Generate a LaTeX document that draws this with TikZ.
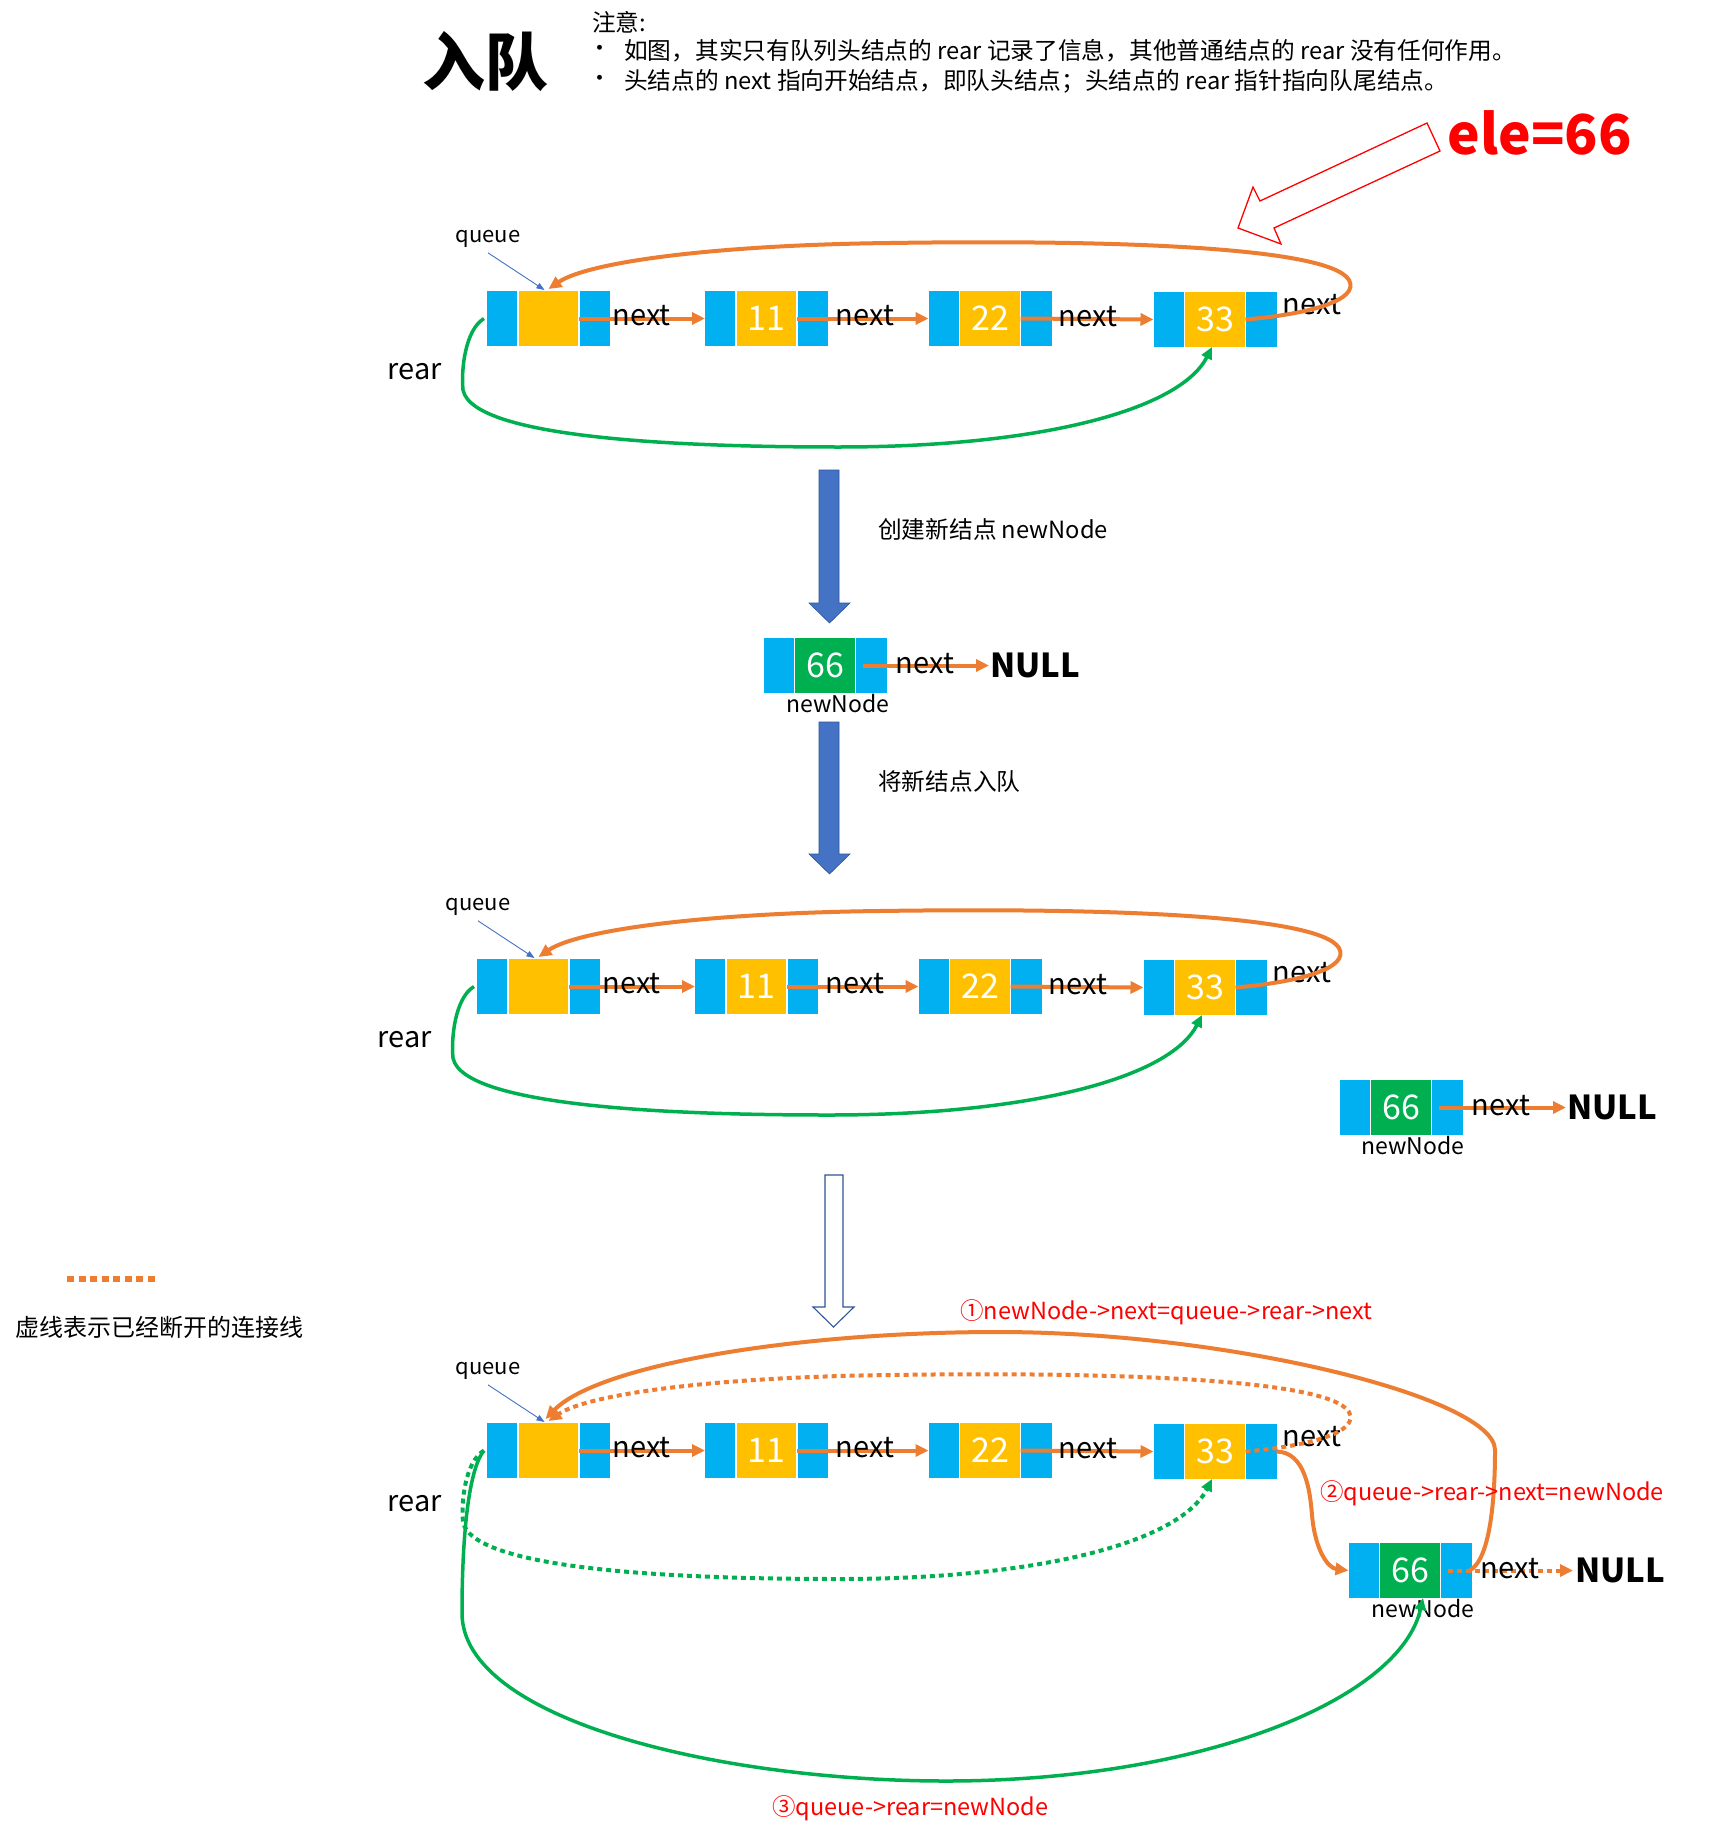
\documentclass[tikz,border=0pt]{standalone}
\usepackage{fontspec}
\setmainfont{Noto Sans CJK SC}
\usetikzlibrary{arrows.meta}
\definecolor{qblue}{HTML}{00B0F0}
\definecolor{qyellow}{HTML}{FFC000}
\definecolor{qgreen}{HTML}{00B050}
\definecolor{qorange}{HTML}{ED7D31}
\definecolor{qarrow}{HTML}{4472C4}
\definecolor{qdark}{HTML}{2F5597}
\definecolor{qred}{HTML}{FF0000}
\newcommand\fsz[1]{\fontsize{#1pt}{#1pt}\selectfont}
\tikzset{
  lnode/.style={rectangle, minimum width=123pt, minimum height=55pt, inner sep=0pt, outer sep=0pt,
    fill=qblue, text=white, font=\fsz{34},
    path picture={
      \fill[#1] ([xshift=31pt]path picture bounding box.south west) rectangle ([xshift=-31pt]path picture bounding box.north east);
      \draw[white, line width=1.3pt]
        ([xshift=31pt]path picture bounding box.south west) -- ([xshift=31pt]path picture bounding box.north west)
        ([xshift=-31pt]path picture bounding box.south east) -- ([xshift=-31pt]path picture bounding box.north east);}},
  nextarr/.style={qorange, line width=4pt, -{Triangle[length=13pt,width=12pt]}},
  nextcurve/.style={qorange, line width=4pt, -{Triangle[length=13pt,width=12pt]}},
  nextdot/.style={qorange, line width=4pt, dash pattern=on 5pt off 4pt, -{Triangle[length=13pt,width=12pt]}},
  rearline/.style={qgreen, line width=3.5pt, -{Triangle[length=12pt,width=11pt]}},
  reardot/.style={qgreen, line width=4pt, dash pattern=on 5pt off 4pt, -{Triangle[length=12pt,width=11pt]}},
  qptr/.style={qarrow, line width=0.9pt, -{Triangle[length=8pt,width=6pt]}},
  nexttxt/.style={font=\fsz{29}, text=black, inner sep=0pt},
  nulltxt/.style={font=\bfseries\fsz{33}, text=black, inner sep=0pt, anchor=west},
  nnlbl/.style={font=\fsz{23}, text=black, inner sep=0pt},
  redlbl/.style={font=\fsz{23.5}, text=qred, inner sep=0pt, anchor=west},
  lbltxt/.style={font=\fsz{23.7}, text=black, inner sep=0pt, anchor=west},
}
% basic queue row: nodes, next arrows, labels
\newcommand\qbase[1]{%
  \node[lnode=qyellow] (h#1) at (548.5,318.5) {};
  \node[lnode=qyellow] (a#1) at (766.5,318.5) {11};
  \node[lnode=qyellow] (b#1) at (990,318.5) {22};
  \node[lnode=qyellow] (c#1) at (1215,319.5) {33};
  \draw[nextarr] ([xshift=-31pt]h#1.east) -- (a#1.west);
  \draw[nextarr] ([xshift=-31pt]a#1.east) -- (b#1.west);
  \draw[nextarr] ([xshift=-31pt]b#1.east) -- (c#1.west);
  \node[nexttxt] (ta#1) at (641.5,316) {next};
  \node[nexttxt] (tb#1) at (865,316) {next};
  \node[nexttxt] (tc#1) at (1088,317) {next};
  \node[nexttxt] (td#1) at (1312,305) {next};
  \node[font=\fsz{22}, inner sep=0pt] (q#1) at (488,239) {queue};
  \draw[qptr] ([yshift=-5pt]q#1.south) -- ([xshift=-4pt,yshift=1pt]h#1.north);
  \node[font=\fsz{29}, inner sep=0pt] (r#1) at (415,372) {rear};
}
\newcommand\qcurves[3]{%
  \draw[#2] ([xshift=-31pt]c#1.east) .. controls (1310,314) and (1360,300) .. (1349,280)
     .. controls (1328,245) and (1090,240) .. (890,243)
     .. controls (715,245) and (588,262) .. ([yshift=2pt]h#1.north);
  \draw[#3] ([xshift=-3pt]h#1.west) .. controls (465,330) and (461,370) .. (463,390)
     .. controls (473,440) and (695,447) .. (839,447)
     .. controls (1040,447) and (1180,410) .. ([xshift=-3pt]c#1.south);
}
\begin{document}
\begin{tikzpicture}[x=1pt,y=-1pt]
\fill[white] (0,0) rectangle (1732,1835);
\useasboundingbox (0,0) rectangle (1732,1835);

% ---------- header ----------
\node[font=\bfseries\fsz{63}, inner sep=0pt] (title) at (485,62) {入队};
\node[lbltxt] (note) at (592,22) {注意:};
\node[font=\fsz{23}, inner sep=0pt] (bul1) at (600,51) {•};
\node[lbltxt] (txt1) at (624,51) {如图，其实只有队列头结点的 rear 记录了信息，其他普通结点的 rear 没有任何作用。};
\node[font=\fsz{23}, inner sep=0pt] (bul2) at (600,81) {•};
\node[lbltxt] (txt2) at (624,81) {头结点的 next 指向开始结点，即队头结点；头结点的 rear 指针指向队尾结点。};

% ele=66 and hollow red arrow
\node[font=\bfseries\fsz{55}, text=qred, inner sep=0pt, anchor=base west] (ele) at (1447,155) {ele=66};
\draw[qred, line width=1.3pt, fill=white, line join=miter]
  (1427,123) -- (1260,201) -- (1253,187) -- (1238,228) -- (1281,244) -- (1274,228) -- (1440,151) -- cycle;

% ---------- row 1 ----------
\qbase{1}
\qcurves{1}{nextcurve}{rearline}

% blue arrow 1
\fill[qarrow, draw=qdark, line width=0.6pt]
  (819,470) -- (839,470) -- (839,603) -- (850,603) -- (829.5,623) -- (809,603) -- (819,603) -- cycle;
\node[lbltxt] (cap1) at (878,529) {创建新结点 newNode};

% new node 1
\node[lnode=qgreen] (m1) at (825,665.5) {66};
\node[nulltxt] (nl1) at (990,665.5) {NULL};
\draw[nextarr] ([xshift=-24pt]m1.east) -- ([xshift=-1pt]nl1.west);
\node[nexttxt] (tm1) at (925,664) {next};
\node[nnlbl] (nn1) at ([xshift=13pt,yshift=-38pt]m1.center) {newNode};

% blue arrow 2
\fill[qarrow, draw=qdark, line width=0.6pt]
  (819,722) -- (839,722) -- (839,854) -- (850,854) -- (829.5,874) -- (809,854) -- (819,854) -- cycle;
\node[lbltxt] (cap2) at (878,781) {将新结点入队};

% ---------- row 2 ----------
\begin{scope}[shift={(-10,668)}]
\qbase{2}
\qcurves{2}{nextcurve}{rearline}
\end{scope}
\node[lnode=qgreen] (m2) at (1401,1107.5) {66};
\node[nulltxt] (nl2) at (1567,1107.5) {NULL};
\draw[nextarr] ([xshift=-24pt]m2.east) -- ([xshift=-1pt]nl2.west);
\node[nexttxt] (tm2) at (1501,1106) {next};
\node[nnlbl] (nn2) at ([xshift=12pt,yshift=-38pt]m2.center) {newNode};

% hollow arrow
\draw[qdark, line width=1.1pt, fill=white, line join=miter]
  (825,1175) -- (843,1175) -- (843,1307) -- (854,1307) -- (833.5,1327) -- (813,1307) -- (825,1307) -- cycle;

% legend
\coordinate (legA) at (67,1279);
\coordinate (legB) at (158,1279);
\draw[qorange, line width=6.5pt, dash pattern=on 7pt off 4.5pt] (legA) -- (legB);
\node[font=\fsz{24}, inner sep=0pt, anchor=west] (legtxt) at (15,1327) {虚线表示已经断开的连接线};

% ---------- row 3 ----------
\begin{scope}[shift={(0,1132)}]
\qbase{3}
\qcurves{3}{nextdot}{reardot}
\end{scope}
\node[lnode=qgreen] (m3) at (1410,1570.5) {66};
\node[nulltxt] (nl3) at (1575,1570.5) {NULL};
\draw[nextdot] ([xshift=-24pt]m3.east) -- ([xshift=-2pt]nl3.west);
\node[nexttxt] (tm3) at (1510,1569) {next};
\node[nnlbl] (nn3) at ([xshift=13pt,yshift=-38pt]m3.center) {newNode};

% step 1: newNode->next = head
\draw[nextcurve] ([xshift=-2pt]m3.east) .. controls (1490,1560) and (1495,1500) .. (1495,1450)
   .. controls (1495,1398) and (1230,1332) .. (998,1332)
   .. controls (795,1332) and (598,1365) .. ([xshift=-3pt,yshift=4pt]h3.north);
% step 2: 33->next = newNode
\draw[nextcurve] (c3.east) .. controls (1305,1452) and (1310,1490) .. (1312,1515)
   .. controls (1315,1550) and (1328,1568) .. (m3.west);
% step 3: rear = newNode
\draw[rearline] ([xshift=-3pt]h3.west) .. controls (468,1470) and (462,1540) .. (462,1613)
   .. controls (462,1720) and (720,1781) .. (946,1781)
   .. controls (1200,1781) and (1400,1700) .. ([xshift=13pt]m3.south);

\node[redlbl] (lab1) at (960,1312) {①newNode->next=queue->rear->next};
\node[redlbl] (lab2) at (1320,1493) {②queue->rear->next=newNode};
\node[redlbl] (lab3) at (772,1808) {③queue->rear=newNode};
\end{tikzpicture}
\end{document}
